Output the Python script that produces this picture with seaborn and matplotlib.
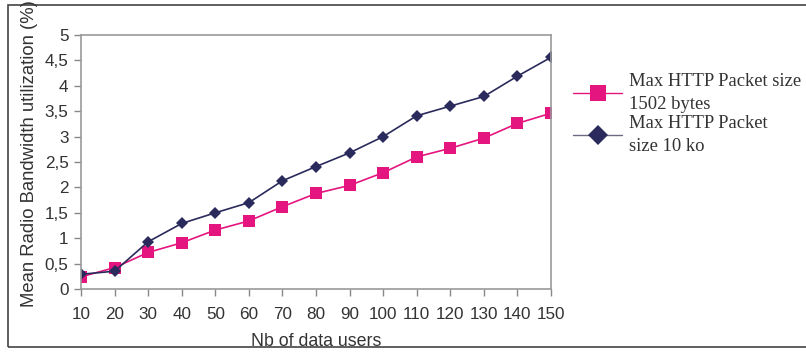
import matplotlib
matplotlib.use("Agg")
import matplotlib.pyplot as plt
import seaborn as sns
import pandas as pd
from matplotlib.patches import Rectangle
from matplotlib.lines import Line2D

users = [10, 20, 30, 40, 50, 60, 70, 80, 90, 100, 110, 120, 130, 140, 150]
small_pkt = [0.24, 0.42, 0.72, 0.91, 1.16, 1.34, 1.62, 1.88, 2.04, 2.29, 2.60, 2.77, 2.97, 3.26, 3.46]
large_pkt = [0.29, 0.35, 0.93, 1.29, 1.50, 1.70, 2.13, 2.41, 2.68, 3.00, 3.41, 3.60, 3.79, 4.19, 4.56]
series_names = ["Max HTTP Packet size\n1502 bytes", "Max HTTP Packet\nsize 10 ko"]
y_ticks = [0, 0.5, 1, 1.5, 2, 2.5, 3, 3.5, 4, 4.5, 5]
y_tick_labels = ["0", "0,5", "1", "1,5", "2", "2,5", "3", "3,5", "4", "4,5", "5"]

df = pd.DataFrame({
    "users": users * 2,
    "value": small_pkt + large_pkt,
    "series": [series_names[0]] * len(users) + [series_names[1]] * len(users),
})

sns.set_theme(style="white")
plt.rcParams["font.family"] = ["Liberation Sans", "DejaVu Sans"]

fig = plt.figure(figsize=(8.06, 3.52), dpi=100)
ax = fig.add_axes([81 / 806, 1 - 289 / 352, 470 / 806, 254 / 352])

pink = "#E5157F"
navy = "#2A2A5C"
sns.lineplot(data=df, x="users", y="value", hue="series", style="series",
             palette={series_names[0]: pink, series_names[1]: navy},
             markers={series_names[0]: "s", series_names[1]: "D"},
             dashes=False, markersize=8, markeredgewidth=0, linewidth=1.2,
             ax=ax, legend=False)
for line in ax.lines:
    if line.get_marker() == "D":
        line.set_markersize(6.5)
    if line.get_marker() == "s":
        line.set_markersize(8.5)

ax.set_xlim(10, 150)
ax.set_ylim(0, 5)
ax.set_xticks(users)
ax.set_xticklabels([str(u) for u in users])
ax.set_yticks(y_ticks)
ax.set_yticklabels(y_tick_labels)
ax.tick_params(axis="both", direction="out", length=5, width=1, color="#888888",
               labelsize=12.3, labelcolor="#333333", bottom=True, left=True)
ax.tick_params(axis="x", pad=8)
ax.tick_params(axis="y", pad=4)
for sp in ax.spines.values():
    sp.set_color("#999999")
    sp.set_linewidth(1.2)
ax.set_xlabel("")
ax.set_ylabel("")

fig.text(30 / 806, 1 - 154 / 352, "Mean Radio Bandwidth utilization (%)", rotation=90,
         ha="center", va="center", fontsize=13.3, color="#333333")
fig.text(316 / 806, 1 - 341 / 352, "Nb of data users", ha="center", va="center",
         fontsize=12.8, color="#333333")

handles = [
    Line2D([], [], color=pink, marker="s", markersize=11, markeredgewidth=0, linewidth=1),
    Line2D([], [], color="#6a6a80", marker="D", markerfacecolor=navy, markersize=10,
           markeredgewidth=0, linewidth=1),
]
leg = fig.legend(handles, series_names, loc="upper left", bbox_to_anchor=(566 / 806, 1 - 66 / 352),
                 frameon=False, prop={"family": "Liberation Serif", "size": 13.4},
                 handlelength=2.6, labelspacing=0.1, handletextpad=0.4, borderaxespad=0,
                 labelcolor="#333333")
for t in leg.get_texts():
    t.set_linespacing(1.45)

fig.patches.append(Rectangle((8 / 806, 5 / 352), 1.0, 342 / 352, transform=fig.transFigure,
                             fill=False, edgecolor="#444444", linewidth=1.2))

fig.savefig("out.png", dpi=100)
